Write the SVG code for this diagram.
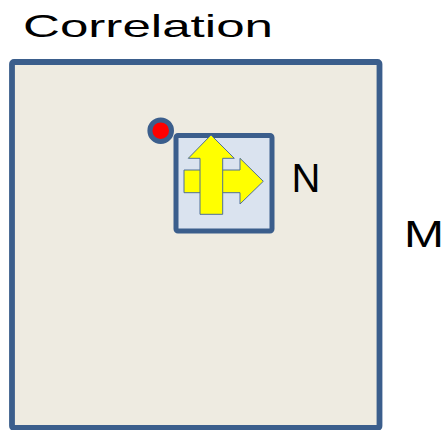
<svg xmlns="http://www.w3.org/2000/svg" width="444" height="430" viewBox="0 0 444 430">
<style>
.lbl{font-family:"Liberation Sans",Arial,sans-serif;fill:#000}
.arrow{fill:#ffff00;stroke:#4f6f98;stroke-width:1}
</style>
<rect width="444" height="430" fill="#ffffff"/>
<text class="lbl" x="23" y="37" font-size="32" textLength="250" lengthAdjust="spacingAndGlyphs">Correlation</text>
<g id="M">
<rect x="12" y="62" width="367.5" height="366" rx="2" fill="#eeebe1" stroke="#3b5e8c" stroke-width="5.8"/>
</g>
<g id="N">
<rect x="176" y="135.5" width="96" height="95.5" rx="2" fill="#dae3ef" stroke="#3b5e8c" stroke-width="5"/>
<polygon class="arrow" points="184,170 240,170 240,158.3 263.3,181.3 240,204 240,192.7 184,192.7"/>
<polygon class="arrow" points="211,135 234.3,158.3 222.7,158.3 222.7,214.3 200,214.3 200,158.3 188.3,158.3"/>
</g>
<g id="dot">
<circle cx="160.7" cy="130.7" r="10.8" fill="#ff0000" stroke="#3b5e8c" stroke-width="5"/>
</g>
<text class="lbl" x="291.5" y="191.7" font-size="40">N</text>
<text class="lbl" x="404" y="246.7" font-size="37" textLength="40" lengthAdjust="spacingAndGlyphs">M</text>
</svg>
